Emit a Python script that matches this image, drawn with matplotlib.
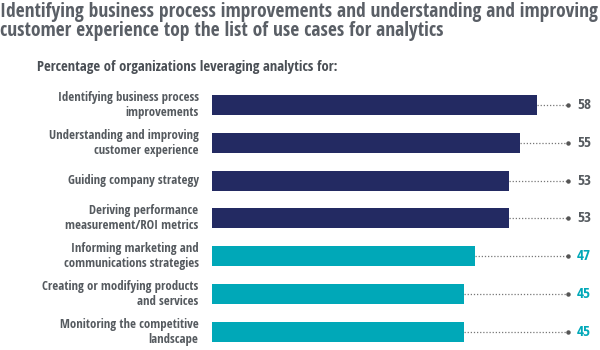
import matplotlib
matplotlib.use("Agg")
import matplotlib.pyplot as plt

plt.rcParams['font.family'] = ['Open Sans Condensed', 'Archivo Narrow', 'DejaVu Sans']
plt.rcParams['font.stretch'] = 'condensed'

categories = [
    "Identifying business process\nimprovements",
    "Understanding and improving\ncustomer experience",
    "Guiding company strategy",
    "Deriving performance\nmeasurement/ROI metrics",
    "Informing marketing and\ncommunications strategies",
    "Creating or modifying products\nand services",
    "Monitoring the competitive\nlandscape",
]
values = [58, 55, 53, 53, 47, 45, 45]
groups = ["top", "top", "top", "top", "other", "other", "other"]

navy = "#232a62"
teal = "#00a8b8"
gray = "#555a5f"

fig = plt.figure(figsize=(6, 3.5), dpi=100)
fig.patch.set_facecolor("white")

fig.text(0.0, 0.995, "Identifying business process improvements and understanding and improving\n"
         "customer experience top the list of use cases for analytics",
         ha="left", va="top", fontsize=14, fontweight="bold", color="#5a5f66", linespacing=0.98)
fig.text(37 / 600, 1 - 67 / 350, "Percentage of organizations leveraging analytics for:",
         ha="left", va="center", fontsize=10.5, fontweight="bold", color="#4a4f55")

ax = fig.add_axes([212 / 600, 0, 388 / 600, 264 / 350])
ys = list(range(len(values)))
colors = [navy if g == "top" else teal for g in groups]
ax.barh(ys, values, height=0.53, color=colors)

line_end = 63.6
for y, v, c in zip(ys, values, colors):
    ax.plot([v, line_end], [y, y], linestyle=(0, (1, 1.5)), color="#777777", linewidth=0.9)
    ax.plot([line_end], [y], marker="o", markersize=2.2, color="#555555")
    ax.text(line_end + 1.6, y, str(v), ha="left", va="center", fontsize=11, fontweight="bold",
            color=gray if c == navy else teal)
    ax.text(-2.4, y, categories[y], ha="right", va="center", fontsize=9.2,
            fontweight="bold", color=gray, linespacing=1.2)

ax.set_xlim(0, 388 / 5.6)
ax.set_ylim(6.476, -0.5)
ax.axis("off")

fig.savefig("out.png", dpi=100, facecolor="white")
